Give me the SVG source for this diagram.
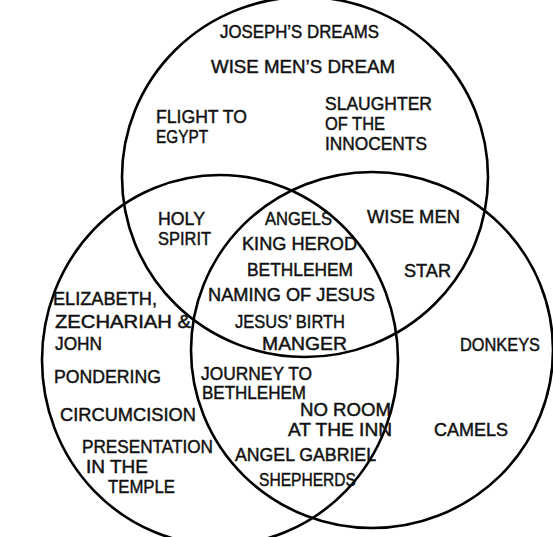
<svg xmlns="http://www.w3.org/2000/svg" width="553" height="537" viewBox="0 0 553 537">
<style>
.c{fill:none;stroke:#000;stroke-width:2.6}
text{font-family:"Liberation Sans",Arial,sans-serif;font-size:18px;fill:#111;stroke:#111;stroke-width:0.45}
</style>
<rect width="553" height="537" fill="#fff"/>
<g id="circles">
<ellipse id="top-circle" class="c" cx="305" cy="177" rx="183" ry="180"/>
<ellipse id="left-circle" class="c" cx="220" cy="360" rx="178" ry="185"/>
<ellipse id="right-circle" class="c" cx="372" cy="350" rx="181" ry="178"/>
</g>
<g id="top-only">
<text x="220" y="38" textLength="159" lengthAdjust="spacingAndGlyphs">JOSEPH’S DREAMS</text>
<text x="211" y="73" textLength="184" lengthAdjust="spacingAndGlyphs">WISE MEN’S DREAM</text>
<text x="156" y="123" textLength="91" lengthAdjust="spacingAndGlyphs">FLIGHT TO</text>
<text x="156" y="143" textLength="52" lengthAdjust="spacingAndGlyphs">EGYPT</text>
<text x="325" y="110" textLength="107" lengthAdjust="spacingAndGlyphs">SLAUGHTER</text>
<text x="325" y="130" textLength="60" lengthAdjust="spacingAndGlyphs">OF THE</text>
<text x="325" y="150" textLength="102" lengthAdjust="spacingAndGlyphs">INNOCENTS</text>
</g>
<g id="top-left">
<text x="158" y="225" textLength="47" lengthAdjust="spacingAndGlyphs">HOLY</text>
<text x="158" y="245" textLength="53" lengthAdjust="spacingAndGlyphs">SPIRIT</text>
</g>
<g id="top-right">
<text x="367" y="223" textLength="93" lengthAdjust="spacingAndGlyphs">WISE MEN</text>
<text x="404" y="277" textLength="47" lengthAdjust="spacingAndGlyphs">STAR</text>
</g>
<g id="center">
<text x="265" y="225" textLength="67" lengthAdjust="spacingAndGlyphs">ANGELS</text>
<text x="242" y="250" textLength="115" lengthAdjust="spacingAndGlyphs">KING HEROD</text>
<text x="247" y="276" textLength="106" lengthAdjust="spacingAndGlyphs">BETHLEHEM</text>
<text x="208" y="301" textLength="167" lengthAdjust="spacingAndGlyphs">NAMING OF JESUS</text>
<text x="235" y="328" textLength="110" lengthAdjust="spacingAndGlyphs">JESUS’ BIRTH</text>
<text x="262" y="350" textLength="85" lengthAdjust="spacingAndGlyphs">MANGER</text>
</g>
<g id="left-only">
<text x="53" y="305" textLength="104" lengthAdjust="spacingAndGlyphs">ELIZABETH,</text>
<text x="55" y="328" textLength="136" lengthAdjust="spacingAndGlyphs">ZECHARIAH &amp;</text>
<text x="55" y="350" textLength="47" lengthAdjust="spacingAndGlyphs">JOHN</text>
<text x="54" y="383" textLength="107" lengthAdjust="spacingAndGlyphs">PONDERING</text>
<text x="60" y="421" textLength="136" lengthAdjust="spacingAndGlyphs">CIRCUMCISION</text>
<text x="82" y="453" textLength="131" lengthAdjust="spacingAndGlyphs">PRESENTATION</text>
<text x="86" y="473" textLength="62" lengthAdjust="spacingAndGlyphs">IN THE</text>
<text x="108" y="493" textLength="67" lengthAdjust="spacingAndGlyphs">TEMPLE</text>
</g>
<g id="left-right">
<text x="201" y="380" textLength="111" lengthAdjust="spacingAndGlyphs">JOURNEY TO</text>
<text x="202" y="399" textLength="104" lengthAdjust="spacingAndGlyphs">BETHLEHEM</text>
<text x="300" y="416" textLength="91" lengthAdjust="spacingAndGlyphs">NO ROOM</text>
<text x="288" y="436" textLength="104" lengthAdjust="spacingAndGlyphs">AT THE INN</text>
<text x="235" y="461" textLength="141" lengthAdjust="spacingAndGlyphs">ANGEL GABRIEL</text>
<text x="259" y="486" textLength="97" lengthAdjust="spacingAndGlyphs">SHEPHERDS</text>
</g>
<g id="right-only">
<text x="460" y="351" textLength="80" lengthAdjust="spacingAndGlyphs">DONKEYS</text>
<text x="434" y="436" textLength="74" lengthAdjust="spacingAndGlyphs">CAMELS</text>
</g>
</svg>
